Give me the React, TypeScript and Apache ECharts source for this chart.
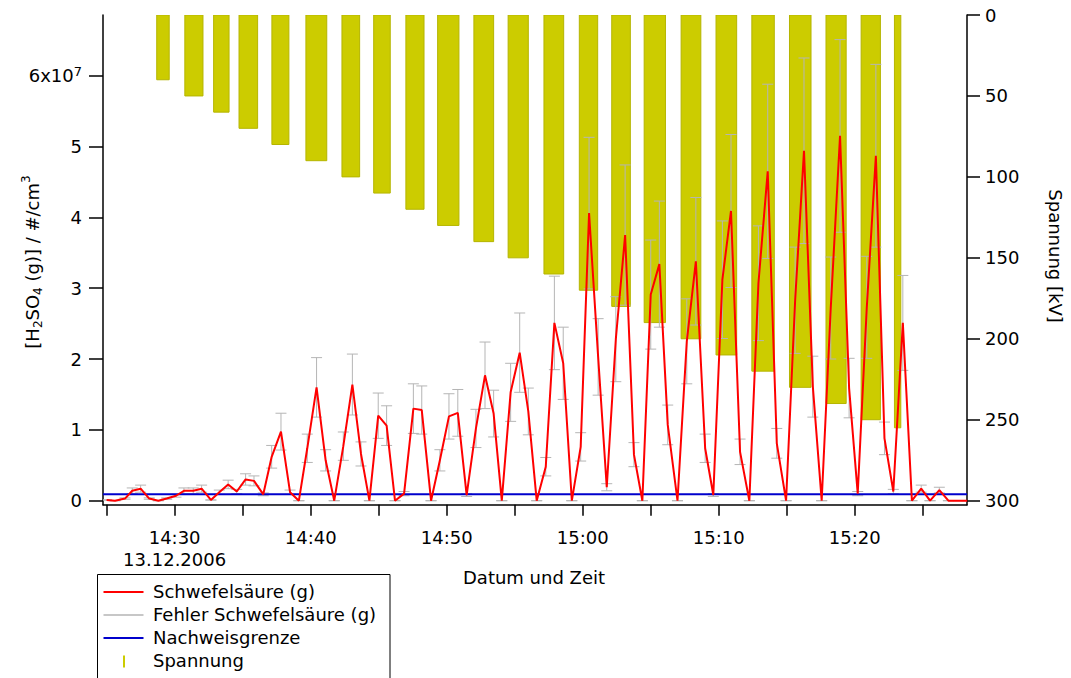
import React, { useEffect, useRef } from "react";
import * as echarts from "echarts";

// Measurement times, 13.12.2006
const sampleTimes = [
  "14:25:00", "14:25:37", "14:26:21", "14:26:53", "14:27:30", "14:28:08", "14:28:48", "14:29:25",
  "14:30:06", "14:30:41", "14:31:22", "14:31:59", "14:32:40", "14:33:17", "14:33:56", "14:34:34",
  "14:35:13", "14:35:50", "14:36:31", "14:37:08", "14:37:49", "14:38:29", "14:39:08", "14:39:45",
  "14:40:26", "14:41:06", "14:41:44", "14:42:24", "14:43:04", "14:43:42", "14:44:19", "14:44:58",
  "14:45:35", "14:46:12", "14:46:52", "14:47:33", "14:48:10", "14:48:51", "14:49:30", "14:50:10",
  "14:50:49", "14:51:28", "14:52:09", "14:52:49", "14:53:27", "14:54:03", "14:54:42", "14:55:22",
  "14:56:00", "14:56:37", "14:57:17", "14:57:55", "14:58:34", "14:59:12", "14:59:51", "15:00:28",
  "15:01:08", "15:01:46", "15:02:26", "15:03:07", "15:03:46", "15:04:23", "15:05:00", "15:05:38",
  "15:06:15", "15:06:58", "15:07:39", "15:08:19", "15:09:00", "15:09:36", "15:10:16", "15:10:54",
  "15:11:34", "15:12:15", "15:12:55", "15:13:36", "15:14:16", "15:14:57", "15:15:37", "15:16:16",
  "15:16:55", "15:17:34", "15:18:14", "15:18:55", "15:19:35", "15:20:13", "15:20:53", "15:21:33",
  "15:22:11", "15:22:50", "15:23:32", "15:24:12", "15:24:53", "15:25:32", "15:26:13", "15:26:53",
  "15:27:37", "15:28:16",
];

// [H2SO4 (g)] in units of 1e7 molecules per cm^3
const h2so4 = [
  0.01, 0.0, 0.03, 0.14, 0.17, 0.03, 0.0, 0.03,
  0.07, 0.14, 0.14, 0.17, 0.01, 0.12, 0.23, 0.13,
  0.30, 0.28, 0.09, 0.62, 0.975, 0.12, 0.0, 0.74,
  1.60, 0.57, 0.0, 0.77, 1.64, 0.66, 0.0, 1.20,
  1.06, 0.0, 0.10, 1.30, 1.28, 0.0, 0.57, 1.19,
  1.24, 0.08, 1.02, 1.77, 1.23, 0.0, 1.53, 2.09,
  1.26, 0.0, 0.48, 2.51, 1.94, 0.0, 0.76, 4.06,
  2.03, 0.19, 2.28, 3.75, 0.65, 0.0, 2.91, 3.34,
  1.07, 0.0, 2.25, 3.38, 0.74, 0.08, 3.12, 4.09,
  0.69, 0.0, 3.07, 4.65, 0.81, 0.0, 2.83, 4.94,
  1.61, 0.0, 2.72, 5.15, 1.59, 0.10, 2.73, 4.87,
  0.88, 0.13, 2.51, 0.0, 0.17, 0.0, 0.15, 0.0,
  0.0, 0.0,
];

// Uncertainty of [H2SO4 (g)], same units
const h2so4Error = [
  0.0, 0.0, 0.01, 0.04, 0.05, 0.01, 0.0, 0.01,
  0.02, 0.04, 0.04, 0.05, 0.0, 0.03, 0.06, 0.03,
  0.08, 0.07, 0.02, 0.16, 0.26, 0.03, 0.0, 0.2,
  0.42, 0.15, 0.0, 0.2, 0.43, 0.17, 0.0, 0.32,
  0.28, 0.0, 0.03, 0.35, 0.34, 0.0, 0.15, 0.32,
  0.33, 0.02, 0.27, 0.47, 0.33, 0.0, 0.41, 0.56,
  0.33, 0.0, 0.13, 0.66, 0.51, 0.0, 0.2, 1.07,
  0.54, 0.05, 0.6, 0.99, 0.17, 0.0, 0.77, 0.89,
  0.28, 0.0, 0.6, 0.9, 0.2, 0.02, 0.83, 1.08,
  0.18, 0.0, 0.81, 1.23, 0.21, 0.0, 0.75, 1.31,
  0.43, 0.0, 0.72, 1.36, 0.42, 0.03, 0.72, 1.29,
  0.23, 0.03, 0.67, 0.0, 0.05, 0.0, 0.04, 0.0,
  0.0, 0.0,
];

// Detection limit, 1e7 per cm^3
const detectionLimit = 0.09;

// High-voltage steps: switched on, switched off, voltage [kV]
const voltageStart = [
  "14:28:41", "14:30:45", "14:32:52", "14:34:44", "14:37:09", "14:39:39", "14:42:18", "14:44:38",
  "14:47:00", "14:49:20", "14:52:00", "14:54:31", "14:57:09", "14:59:45", "15:02:08", "15:04:31",
  "15:07:14", "15:09:48", "15:12:26", "15:15:12", "15:17:53", "15:20:28", "15:22:55",
];
const voltageEnd = [
  "14:29:36", "14:32:05", "14:34:00", "14:36:06", "14:38:24", "14:41:11", "14:43:36", "14:45:51",
  "14:48:20", "14:50:54", "14:53:27", "14:56:00", "14:58:36", "15:01:06", "15:03:30", "15:06:05",
  "15:08:41", "15:11:19", "15:14:05", "15:16:47", "15:19:22", "15:21:53", "15:23:23",
];
const voltageKV = [
  40, 50, 60, 70, 80, 90, 100, 110,
  120, 130, 140, 150, 160, 170, 180, 190,
  200, 210, 220, 230, 240, 250, 255,
];

// Axis ticks and labels
const timeTicks = [
  "14:25", "14:30", "14:35", "14:40", "14:45", "14:50", "14:55",
  "15:00", "15:05", "15:10", "15:15", "15:20", "15:25",
];
const timeLabels = ["14:30", "14:40", "14:50", "15:00", "15:10", "15:20"];
const dateLabel = "13.12.2006";
const concTicks = [0, 1, 2, 3, 4, 5, 6];
const voltTicks = [0, 50, 100, 150, 200, 250, 300];

const timeRange = ["14:24:44", "15:28:15"];
const concRange = [-0.0565, 6.857];
const voltRange = [0, 302.5];

const FONT = "'DejaVu Sans', 'Liberation Sans', Arial, sans-serif";
const FS = 18;
const RED = "#ff0000";
const GREY = "#b5b5b5";
const BLUE = "#0000cc";
const OLIVE = "#cccc00";

function toSec(t: string): number {
  const p = t.split(":").map(Number);
  return p[0] * 3600 + p[1] * 60 + (p[2] || 0);
}

function hhmm(sec: number): string {
  const h = Math.floor(sec / 3600);
  const m = Math.round((sec - h * 3600) / 60);
  return `${h}:${String(m).padStart(2, "0")}`;
}

export default function App() {
  const ref = useRef<HTMLDivElement>(null);

  useEffect(() => {
    if (!ref.current) return;
    const chart = echarts.init(ref.current, null, { renderer: "svg" });

    const lineData = sampleTimes.map((t, i) => [toSec(t), h2so4[i]]);
    const errData = sampleTimes.map((t, i) => [toSec(t), h2so4[i], h2so4Error[i]]);
    const barData = voltageKV.map((kv, i) => [toSec(voltageStart[i]), toSec(voltageEnd[i]), kv]);
    const xMin = toSec(timeRange[0]);
    const xMax = toSec(timeRange[1]);

    const axisLine = { show: true, onZero: false, lineStyle: { color: "#000", width: 1.5 } };
    const tickStyle = { color: "#000", width: 1.5 };
    const txt = (text: string, x: number, y: number) => ({
      type: "text",
      x,
      y,
      style: { text, verticalAlign: "middle", fontSize: FS, fontFamily: FONT, fill: "#000" },
    });

    chart.setOption({
      animation: false,
      backgroundColor: "#fff",
      textStyle: { fontFamily: FONT },
      grid: { left: 103, right: 104, top: 15, bottom: 173.3, containLabel: false },
      xAxis: {
        type: "value",
        min: xMin,
        max: xMax,
        axisLine,
        splitLine: { show: false },
        axisTick: {
          show: true,
          length: 11,
          lineStyle: tickStyle,
          customValues: timeTicks.map(toSec),
        },
        axisLabel: {
          customValues: timeLabels.map(toSec),
          margin: 22,
          color: "#000",
          fontSize: FS,
          lineHeight: 22,
          fontFamily: FONT,
          formatter: (v: number) =>
            hhmm(v) === timeLabels[0] ? `${hhmm(v)}\n${dateLabel}` : hhmm(v),
        },
      },
      yAxis: [
        {
          type: "value",
          position: "left",
          min: concRange[0],
          max: concRange[1],
          axisLine,
          splitLine: { show: false },
          axisTick: { show: true, length: 14, lineStyle: tickStyle, customValues: concTicks },
          axisLabel: {
            customValues: concTicks,
            margin: 21,
            color: "#000",
            fontFamily: FONT,
            formatter: (v: number) =>
              v === concTicks[concTicks.length - 1] ? `{m|${v}x10}{s|7}` : `{m|${v}}`,
            rich: {
              m: { fontSize: FS, lineHeight: 22, color: "#000", fontFamily: FONT },
              s: { fontSize: 13, lineHeight: 13, verticalAlign: "top", color: "#000", fontFamily: FONT },
            },
          },
        },
        {
          type: "value",
          position: "right",
          inverse: true,
          min: voltRange[0],
          max: voltRange[1],
          axisLine,
          splitLine: { show: false },
          axisTick: { show: true, length: 13, lineStyle: tickStyle, customValues: voltTicks },
          axisLabel: {
            customValues: voltTicks,
            margin: 18,
            color: "#000",
            fontSize: FS,
            fontFamily: FONT,
          },
        },
      ],
      series: [
        {
          name: "Spannung",
          type: "custom",
          yAxisIndex: 1,
          z: 1,
          clip: true,
          encode: { x: [0, 1], y: 2 },
          data: barData,
          renderItem: (_p: any, api: any) => {
            const a = api.coord([api.value(0), 0]);
            const b = api.coord([api.value(1), api.value(2)]);
            return {
              type: "rect",
              shape: { x: a[0], y: a[1], width: b[0] - a[0], height: b[1] - a[1] },
              style: { fill: OLIVE, stroke: "#b5b500", lineWidth: 1 },
            };
          },
        },
        {
          name: "Fehler Schwefelsäure (g)",
          type: "custom",
          yAxisIndex: 0,
          z: 2,
          clip: true,
          encode: { x: 0, y: 1 },
          data: errData,
          renderItem: (_p: any, api: any) => {
            const t = api.value(0);
            const v = api.value(1);
            const e = api.value(2);
            const hi = api.coord([t, v + e]);
            const lo = api.coord([t, v - e]);
            const hw = 5.5;
            const st = { stroke: GREY, lineWidth: 1 };
            return {
              type: "group",
              children: [
                { type: "line", shape: { x1: hi[0], y1: hi[1], x2: lo[0], y2: lo[1] }, style: st },
                { type: "line", shape: { x1: hi[0] - hw, y1: hi[1], x2: hi[0] + hw, y2: hi[1] }, style: st },
                { type: "line", shape: { x1: lo[0] - hw, y1: lo[1], x2: lo[0] + hw, y2: lo[1] }, style: st },
              ],
            };
          },
        },
        {
          name: "Nachweisgrenze",
          type: "line",
          yAxisIndex: 0,
          z: 3,
          showSymbol: false,
          symbol: "none",
          data: [
            [xMin, detectionLimit],
            [xMax, detectionLimit],
          ],
          lineStyle: { color: BLUE, width: 2 },
        },
        {
          name: "Schwefelsäure (g)",
          type: "line",
          yAxisIndex: 0,
          z: 4,
          clip: true,
          showSymbol: false,
          symbol: "none",
          data: lineData,
          lineStyle: { color: RED, width: 2 },
        },
      ],
      graphic: [
        {
          type: "text",
          x: 32,
          y: 262,
          rotation: Math.PI / 2,
          style: {
            text: "{m|[H}{d|2}{m|SO}{d|4}{m| (g)] / #/cm}{u|3}",
            align: "center",
            verticalAlign: "middle",
            rich: {
              m: { fontSize: FS, lineHeight: 24, fill: "#000", fontFamily: FONT },
              d: { fontSize: 12, lineHeight: 14, verticalAlign: "bottom", fill: "#000", fontFamily: FONT },
              u: { fontSize: 12, lineHeight: 13, verticalAlign: "top", fill: "#000", fontFamily: FONT },
            },
          },
        },
        {
          type: "text",
          x: 1055,
          y: 256,
          rotation: -Math.PI / 2,
          style: {
            text: "Spannung [kV]",
            align: "center",
            verticalAlign: "middle",
            fontSize: FS,
            fontFamily: FONT,
            fill: "#000",
          },
        },
        {
          type: "text",
          x: 534,
          y: 577,
          style: {
            text: "Datum und Zeit",
            align: "center",
            verticalAlign: "middle",
            fontSize: FS,
            fontFamily: FONT,
            fill: "#000",
          },
        },
        {
          type: "group",
          x: 97.5,
          y: 574.5,
          children: [
            {
              type: "rect",
              shape: { x: 0, y: 0, width: 292.5, height: 120 },
              style: { fill: "#fff", stroke: "#000", lineWidth: 1 },
            },
            { type: "line", shape: { x1: 6, y1: 17.5, x2: 46, y2: 17.5 }, style: { stroke: RED, lineWidth: 2 } },
            { type: "line", shape: { x1: 6, y1: 40.5, x2: 46, y2: 40.5 }, style: { stroke: GREY, lineWidth: 1.5 } },
            { type: "line", shape: { x1: 6, y1: 63.5, x2: 46, y2: 63.5 }, style: { stroke: BLUE, lineWidth: 2 } },
            { type: "line", shape: { x1: 26.5, y1: 81, x2: 26.5, y2: 93 }, style: { stroke: OLIVE, lineWidth: 2 } },
            txt("Schwefelsäure (g)", 55.5, 17),
            txt("Fehler Schwefelsäure (g)", 55.5, 40),
            txt("Nachweisgrenze", 55.5, 63),
            txt("Spannung", 55.5, 86),
          ],
        },
      ],
    });

    return () => chart.dispose();
  }, []);

  return (
    <div
      ref={ref}
      style={{ position: "fixed", left: 0, top: 0, width: 1071, height: 678, background: "#fff" }}
    />
  );
}
